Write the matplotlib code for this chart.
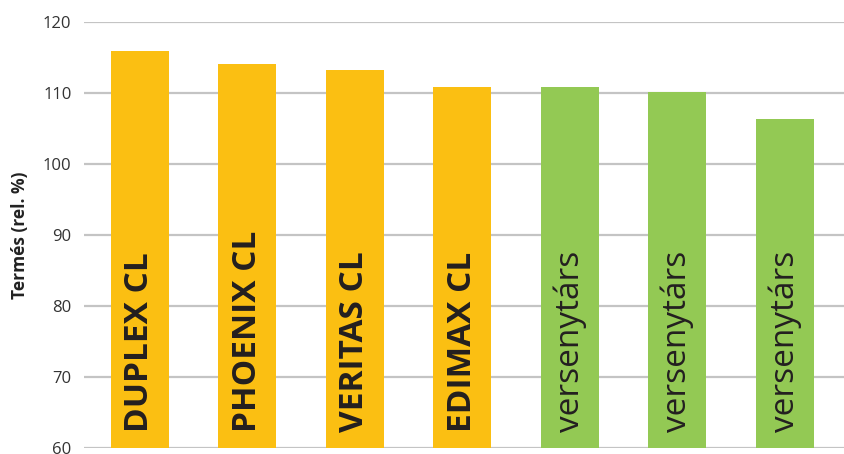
import matplotlib
matplotlib.use("Agg")
import matplotlib.pyplot as plt

# chart values
categories = ["DUPLEX CL", "PHOENIX CL", "VERITAS CL", "EDIMAX CL",
              "versenytárs", "versenytárs", "versenytárs"]
values = [115.9, 114.1, 113.3, 110.8, 110.9, 110.1, 106.4]
own_variety = [True, True, True, True, False, False, False]
yticks = [60, 70, 80, 90, 100, 110, 120]

yellow = "#FBBF12"
green = "#93C954"

plt.rcParams['font.family'] = ['Open Sans', 'DejaVu Sans']

fig = plt.figure(figsize=(8.44, 4.54), dpi=100)
ax = fig.add_axes([84 / 844, 1 - 448 / 454, 760 / 844, 426 / 454])

colors = [yellow if own else green for own in own_variety]
x = list(range(len(categories)))
ax.bar(x, values, width=0.54, color=colors, zorder=3)

for xi, name, own in zip(x, categories, own_variety):
    ax.text(xi, 62.2, name, rotation=90, ha="center", va="bottom",
            fontsize=24, color="#231f20",
            fontweight="bold" if own else "normal", zorder=4)

ax.set_ylim(60, 120)
ax.set_xlim(-0.52, 6.55)
ax.set_yticks(yticks)
ax.set_xticks([])
ax.yaxis.grid(True, color="#c4c4c4", linewidth=1.6, zorder=0)
ax.tick_params(axis="y", length=0, pad=9, labelsize=12, labelcolor="#333333")
for s in ax.spines.values():
    s.set_visible(False)

ax.set_ylabel("Termés (rel. %)", fontsize=12.5, fontweight="bold",
              color="#222222", labelpad=10)

fig.savefig("out.png", dpi=100)
